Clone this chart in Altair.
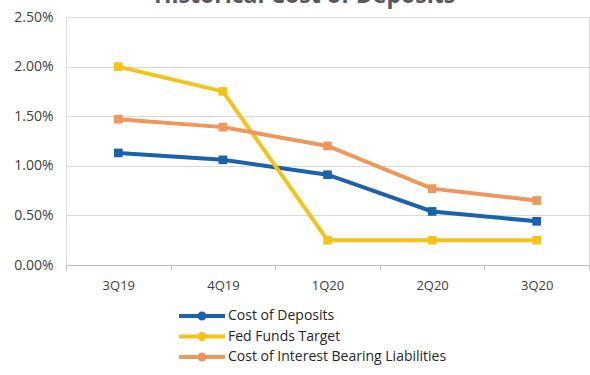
import altair as alt
import pandas as pd

quarters = ["3Q19", "4Q19", "1Q20", "2Q20", "3Q20"]
series_names = ["Cost of Deposits", "Fed Funds Target", "Cost of Interest Bearing Liabilities"]
cost_of_deposits = [0.0113, 0.0106, 0.0091, 0.0054, 0.0044]
fed_funds_target = [0.0200, 0.0175, 0.0025, 0.0025, 0.0025]
cost_ibl = [0.0147, 0.0139, 0.0120, 0.0077, 0.0065]
colors = ["#1B62AC", "#F3C317", "#EF9659"]

rows = []
for name, vals in zip(series_names, [cost_of_deposits, fed_funds_target, cost_ibl]):
    for q, v in zip(quarters, vals):
        rows.append({"Quarter": q, "Series": name, "Value": v})
df = pd.DataFrame(rows)

symbol_path = ("M-2.3,-0.2 L2.3,-0.2 L2.3,0.2 L-2.3,0.2 Z "
               "M0.45,0 A0.45,0.45 0 1,1 -0.45,0 A0.45,0.45 0 1,1 0.45,0 Z")

x_enc = alt.X("Quarter:N", sort=quarters, bandPosition=0.5,
              scale=alt.Scale(type="band", domain=quarters, paddingInner=0, paddingOuter=0),
              axis=alt.Axis(title=None, tickBand="extent", labelAngle=0, labelPadding=9,
                            domainColor="#BFBFBF", tickColor="#BFBFBF", tickSize=5,
                            labelColor="#404040", labelFont="Open Sans", labelFontSize=13,
                            grid=False))
y_enc = alt.Y("Value:Q", scale=alt.Scale(domain=[0, 0.025], nice=False),
              axis=alt.Axis(title=None, format=".2%", values=[0, 0.005, 0.01, 0.015, 0.02, 0.025],
                            domain=False, ticks=False, labelPadding=13,
                            gridColor="#D9D9D9", gridWidth=1,
                            labelColor="#404040", labelFont="Open Sans", labelFontSize=14))
color_enc = alt.Color("Series:N",
                      scale=alt.Scale(domain=series_names, range=colors),
                      legend=alt.Legend(title=None, orient="none", legendX=126, legendY=289,
                                        symbolType=symbol_path, symbolSize=400,
                                        symbolStrokeWidth=0, labelOffset=16, rowPadding=3.5,
                                        labelFont="Open Sans", labelFontSize=14, labelLimit=400,
                                        labelColor="#262626", padding=0))

lines = alt.Chart(df).mark_line(strokeWidth=4).encode(
    x=x_enc, y=y_enc, color=color_enc, order=alt.Order("Series:N")
)
points = alt.Chart(df).mark_point(shape="square", filled=True, size=75, opacity=1).encode(
    x=x_enc, y=y_enc, color=alt.Color("Series:N", scale=alt.Scale(domain=series_names, range=colors), legend=None)
)

chart = alt.layer(lines, points).properties(
    width=523, height=248,
    title=alt.TitleParams("Historical Cost of Deposits", font="Open Sans", fontSize=23,
                          fontWeight="bold", color="#595959", anchor="middle",
                          baseline="alphabetic", offset=0, dy=16, dx=-23),
    autosize=alt.AutoSizeParams(type="none"),
    padding={"left": 66, "top": 17, "right": 1, "bottom": 110},
).configure_view(stroke=None).configure(background="white")

chart.save("out.html", embed_options={"renderer": "svg", "actions": False})
